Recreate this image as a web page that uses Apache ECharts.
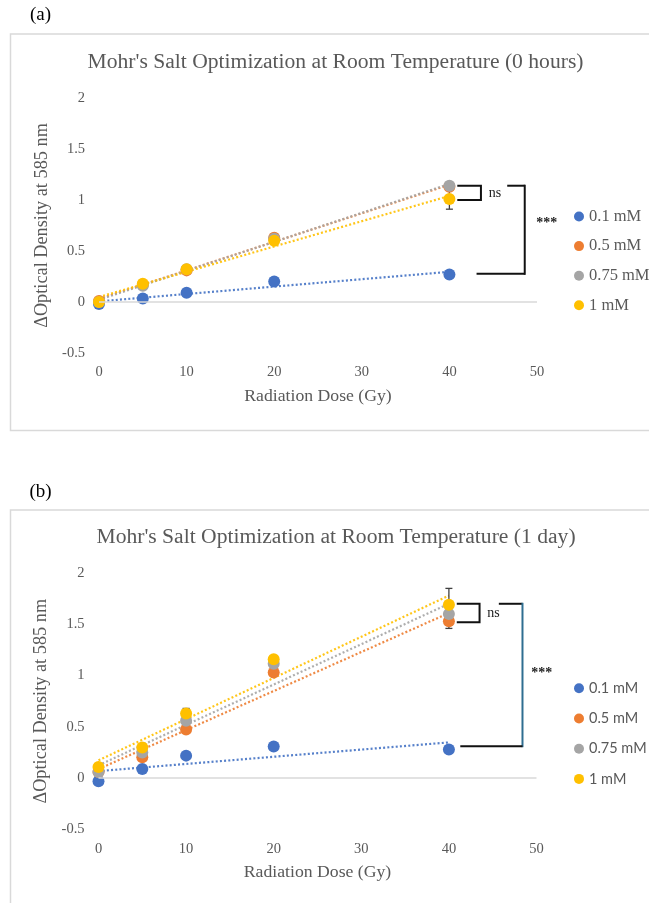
<!DOCTYPE html>
<html>
<head>
<meta charset="utf-8">
<script src="https://cdn.jsdelivr.net/npm/echarts@6/dist/echarts.min.js"></script>
<style>
html,body{margin:0;padding:0;background:#fff;}
#c{width:649px;height:903px;}
</style>
</head>
<body>
<div id="c"></div>
<script>
// ---------- data ----------
const doses = [0, 5, 10, 20, 40];
const seriesNames = ['0.1 mM', '0.5 mM', '0.75 mM', '1 mM'];
const colors = ['#4472C4', '#ED7D31', '#A5A5A5', '#FFC000'];

// Panel (a): 0 hours
const a_01  = [-0.02, 0.035, 0.09, 0.20, 0.27];
const a_05  = [0.01, 0.17, 0.31, 0.63, 1.13];
const a_075 = [0.00, 0.16, 0.32, 0.62, 1.14];
const a_1   = [0.00, 0.18, 0.32, 0.60, 1.01];
const a_err01  = [0.02, 0.01, 0.01, 0.01, 0.01];
const a_err05  = [0.01, 0.02, 0.02, 0.04, 0.03];
const a_err075 = [0.01, 0.02, 0.02, 0.03, 0.04];
const a_err1   = [0.01, 0.02, 0.03, 0.03, 0.10];
// linear trendlines: value at dose 0 and at dose 40
const a_trend01  = [0.006, 0.296];
const a_trend05  = [0.030, 1.150];
const a_trend075 = [0.022, 1.158];
const a_trend1   = [0.049, 1.040];

// Panel (b): 1 day
const b_01  = [-0.03, 0.09, 0.22, 0.31, 0.28];
const b_05  = [0.06, 0.205, 0.475, 1.03, 1.53];
const b_075 = [0.06, 0.25, 0.56, 1.115, 1.60];
const b_1   = [0.11, 0.30, 0.63, 1.16, 1.69];
const b_err01  = [0.04, 0.01, 0.02, 0.01, 0.01];
const b_err05  = [0.01, 0.03, 0.03, 0.03, 0.07];
const b_err075 = [0.01, 0.03, 0.05, 0.04, 0.05];
const b_err1   = [0.01, 0.03, 0.05, 0.03, 0.16];
const b_trend01  = [0.069, 0.349];
const b_trend05  = [0.089, 1.610];
const b_trend075 = [0.126, 1.700];
const b_trend1   = [0.174, 1.780];

// significance brackets (data units): [x1, x2, yTop, yBottom]
const a_nsBracket  = [40.9, 43.6, 1.14, 1.00];
const a_sigBracket = [46.6, 48.6, 1.14, 0.276, 43.1];
const b_nsBracket  = [40.9, 43.5, 1.70, 1.52];
const b_sigBracket = [45.7, 48.4, 1.70, 0.312, 41.3];
const a_nsLabel  = ['ns', 45.2, 1.065];
const a_sigLabel = ['***', 51.1, 0.77];
const b_nsLabel  = ['ns', 45.1, 1.605];
const b_sigLabel = ['***', 50.6, 1.02];

const xTicks = {min: 0, max: 50, interval: 10};
const yTicks = {min: -0.5, max: 2, interval: 0.5};

// ---------- chart ----------
const SERIF = 'Liberation Serif, Times New Roman, serif';
const SANS = 'Lato, Carlito, Open Sans, sans-serif';
const TXT = '#595959';

function errorRender(params, api) {
  const x = api.value(0), y = api.value(1), e = api.value(2);
  const hi = api.coord([x, y + e]);
  const lo = api.coord([x, y - e]);
  const cw = 3.5;
  const st = {stroke: '#404040', lineWidth: 1.3};
  return {type: 'group', children: [
    {type: 'line', shape: {x1: hi[0], y1: hi[1], x2: lo[0], y2: lo[1]}, style: st},
    {type: 'line', shape: {x1: hi[0] - cw, y1: hi[1], x2: hi[0] + cw, y2: hi[1]}, style: st},
    {type: 'line', shape: {x1: lo[0] - cw, y1: lo[1], x2: lo[0] + cw, y2: lo[1]}, style: st}
  ]};
}

function makeBracketRender(ns, sig, nsLab, sigLab, vColor) {
  return function (params, api) {
    const st = {stroke: '#111', lineWidth: 2, fill: null};
    const p = (x, y) => api.coord([x, y]);
    const nsPts = [p(ns[0], ns[2]), p(ns[1], ns[2]), p(ns[1], ns[3]), p(ns[0], ns[3])];
    const sTop1 = p(sig[0], sig[2]), sTop2 = p(sig[1], sig[2]);
    const sBot2 = p(sig[1], sig[3]), sBot1 = p(sig[4], sig[3]);
    const nsT = p(nsLab[1], nsLab[2]);
    const sgT = p(sigLab[1], sigLab[2]);
    return {type: 'group', children: [
      {type: 'polyline', shape: {points: nsPts}, style: st},
      {type: 'line', shape: {x1: sTop1[0], y1: sTop1[1], x2: sTop2[0], y2: sTop2[1]}, style: st},
      {type: 'line', shape: {x1: sTop2[0], y1: sTop2[1] - 1, x2: sBot2[0], y2: sBot2[1] + 1}, style: {stroke: vColor, lineWidth: 2}},
      {type: 'line', shape: {x1: sBot1[0], y1: sBot1[1], x2: sBot2[0], y2: sBot2[1]}, style: st},
      {type: 'text', x: nsT[0], y: nsT[1], style: {text: nsLab[0], fill: '#222', font: '14px ' + SERIF, align: 'center', verticalAlign: 'middle'}},
      {type: 'text', x: sgT[0], y: sgT[1], style: {text: sigLab[0], fill: '#222', font: 'bold 14px ' + SERIF, align: 'center', verticalAlign: 'middle'}}
    ]};
  };
}

function panelSeries(gi, vals, errs, trends, ns, sig, nsLab, sigLab, vColor) {
  const out = [];
  for (let k = 0; k < 4; k++) {
    out.push({
      type: 'line', xAxisIndex: gi, yAxisIndex: gi, silent: true, z: 2,
      data: [[doses[0], trends[k][0]], [doses[doses.length - 1], trends[k][1]]],
      symbol: 'none', lineStyle: {color: colors[k], width: 2.2, type: [2, 2.2], opacity: 0.9},
      markLine: k === 0 ? {silent: true, symbol: 'none', label: {show: false},
        lineStyle: {color: '#D9D9D9', type: 'solid', width: 1.5}, data: [{yAxis: 0}]} : undefined
    });
  }
  for (let k = 0; k < 4; k++) {
    out.push({
      type: 'custom', xAxisIndex: gi, yAxisIndex: gi, z: 3, silent: true,
      renderItem: errorRender,
      data: doses.map((d, i) => [d, vals[k][i], errs[k][i]])
    });
  }
  for (let k = 0; k < 4; k++) {
    out.push({
      name: seriesNames[k], type: 'scatter', xAxisIndex: gi, yAxisIndex: gi, z: 4,
      symbol: 'circle', symbolSize: 12, itemStyle: {color: colors[k], opacity: 1},
      data: doses.map((d, i) => [d, vals[k][i]])
    });
  }
  out.push({
    type: 'custom', xAxisIndex: gi, yAxisIndex: gi, z: 5, silent: true, clip: false,
    renderItem: makeBracketRender(ns, sig, nsLab, sigLab, vColor),
    data: [[0, 0]]
  });
  return out;
}

function xAxisCfg(gi) {
  return {
    type: 'value', gridIndex: gi, min: xTicks.min, max: xTicks.max, interval: xTicks.interval,
    axisLine: {show: false}, axisTick: {show: false}, splitLine: {show: false},
    axisLabel: {color: TXT, fontFamily: SERIF, fontSize: 14.5, margin: 12},
    name: 'Radiation Dose (Gy)', nameLocation: 'middle', nameGap: 34,
    nameTextStyle: {color: TXT, fontFamily: SERIF, fontSize: 17.7}
  };
}
function yAxisCfg(gi) {
  return {
    type: 'value', gridIndex: gi, min: yTicks.min, max: yTicks.max, interval: yTicks.interval,
    axisLine: {show: false}, axisTick: {show: false}, splitLine: {show: false},
    axisLabel: {color: TXT, fontFamily: SERIF, fontSize: 14.5, margin: 14},
    name: '\u0394Optical Density at 585 nm', nameLocation: 'middle', nameGap: 43,
    nameTextStyle: {color: TXT, fontFamily: SERIF, fontSize: 18.3}
  };
}

const chart = echarts.init(document.getElementById('c'), null, {renderer: 'canvas'});
const option = {
  animation: false,
  backgroundColor: '#fff',
  grid: [
    {left: 99, top: 98, width: 438, height: 255},
    {left: 98.5, top: 573, width: 438, height: 256.5}
  ],
  xAxis: [xAxisCfg(0), xAxisCfg(1)],
  yAxis: [yAxisCfg(0), yAxisCfg(1)],
  legend: [
    {data: seriesNames, orient: 'vertical', left: 569, top: 203, icon: 'circle',
     itemWidth: 10, itemHeight: 10, itemGap: 12.6,
     textStyle: {color: TXT, fontFamily: SERIF, fontSize: 16.5, lineHeight: 16}},
    {data: seriesNames, orient: 'vertical', left: 569, top: 675.3, icon: 'circle',
     itemWidth: 10, itemHeight: 10, itemGap: 14.2,
     textStyle: {color: TXT, fontFamily: SANS, fontSize: 14.5, lineHeight: 16}}
  ],
  graphic: [
    {type: 'rect', shape: {x: 10.5, y: 34, width: 700, height: 396.5}, style: {fill: null, stroke: '#D9D9D9', lineWidth: 1.5}, z: 0},
    {type: 'rect', shape: {x: 10.5, y: 510, width: 700, height: 500}, style: {fill: null, stroke: '#D9D9D9', lineWidth: 1.5}, z: 0},
    {type: 'text', x: 40.5, y: 15, style: {text: '(a)', fill: '#000', font: '19px ' + SERIF, align: 'center', verticalAlign: 'middle'}},
    {type: 'text', x: 40.5, y: 492, style: {text: '(b)', fill: '#000', font: '19px ' + SERIF, align: 'center', verticalAlign: 'middle'}},
    {type: 'text', x: 335.5, y: 62, style: {text: "Mohr's Salt Optimization at Room Temperature (0 hours)", fill: TXT, font: '21.6px ' + SERIF, align: 'center', verticalAlign: 'middle'}},
    {type: 'text', x: 336, y: 537, style: {text: "Mohr's Salt Optimization at Room Temperature (1 day)", fill: TXT, font: '21.6px ' + SERIF, align: 'center', verticalAlign: 'middle'}}
  ],
  series: [].concat(
    panelSeries(0, [a_01, a_05, a_075, a_1], [a_err01, a_err05, a_err075, a_err1],
      [a_trend01, a_trend05, a_trend075, a_trend1], a_nsBracket, a_sigBracket, a_nsLabel, a_sigLabel, '#111'),
    panelSeries(1, [b_01, b_05, b_075, b_1], [b_err01, b_err05, b_err075, b_err1],
      [b_trend01, b_trend05, b_trend075, b_trend1], b_nsBracket, b_sigBracket, b_nsLabel, b_sigLabel, '#2F6E91')
  )
};
chart.setOption(option);
</script>
</body>
</html>
